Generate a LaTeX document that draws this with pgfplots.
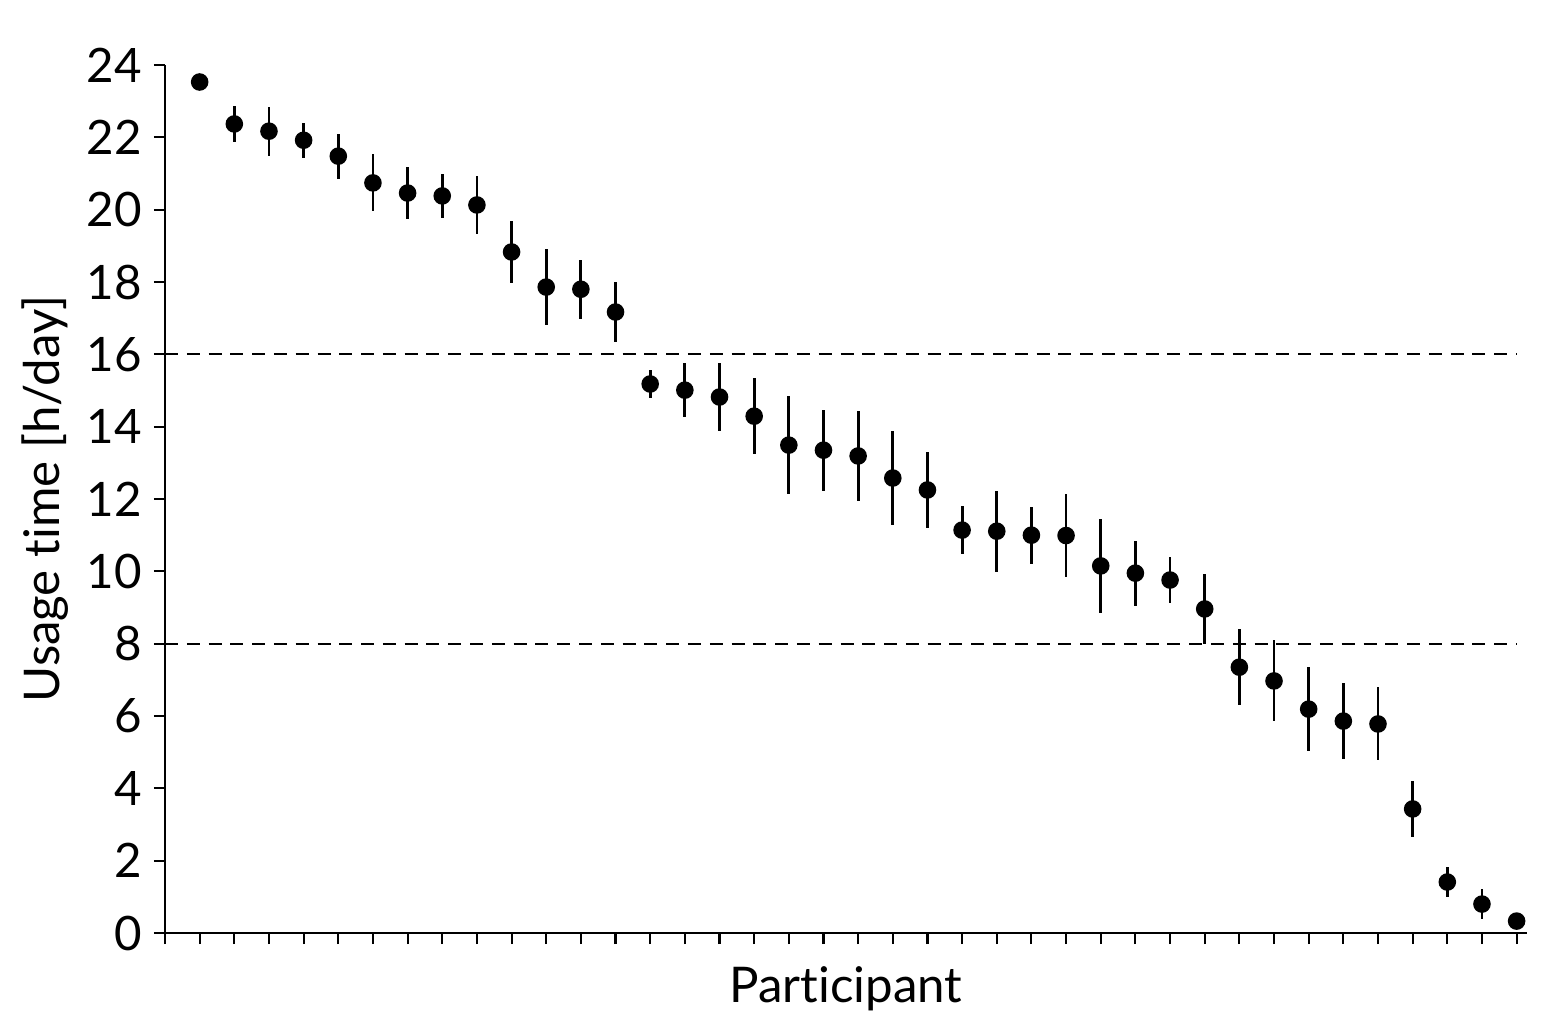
\documentclass[border=0pt]{standalone}
\usepackage{fontspec}
\setmainfont{Lato}[Ligatures={NoCommon}]
\usepackage{pgfplots}
\pgfplotsset{compat=1.18}
\begin{document}
\begin{tikzpicture}
\begin{axis}[
 scale only axis, width=13.62cm, height=8.68cm,
 xmin=0, xmax=39.3, ymin=0, ymax=24,
 axis x line*=bottom, axis y line*=left,
 axis line style={line width=0.6pt, -},
 xtick={0,...,39}, xticklabels={},
 ytick={0,2,...,24},
 tick align=outside, major tick length=0.11cm,
 tick style={line width=0.6pt, black},
 ticklabel style={font=\fontsize{13.5}{15}\selectfont},
 /pgf/number format/assume math mode=true,
 xlabel={Participant}, ylabel={Usage time [h/day]},
 xlabel style={at={(axis description cs:0.5,-0.0806)}, anchor=base, font=\fontsize{14}{16}\selectfont},
 ylabel style={at={(axis description cs:-0.088,0.5)}, anchor=center, font=\fontsize{14}{16}\selectfont},
 clip=false,
]
\addplot[black, dash pattern=on 3.7pt off 2.5pt, line width=0.6pt] coordinates {(0,16) (39,16)};
\addplot[black, dash pattern=on 3.7pt off 2.5pt, line width=0.6pt] coordinates {(0,8) (39,8)};
\addplot[only marks, mark=*, mark size=2.3pt, black,
  error bars/.cd, y dir=both, y explicit, error mark=none,
  error bar style={line width=0.8pt}]
coordinates {
(1,23.53) +- (0,0.05)
(2,22.37) +- (0,0.50)
(3,22.17) +- (0,0.68)
(4,21.92) +- (0,0.48)
(5,21.48) +- (0,0.62)
(6,20.74) +- (0,0.79)
(7,20.46) +- (0,0.72)
(8,20.38) +- (0,0.60)
(9,20.13) +- (0,0.80)
(10,18.83) +- (0,0.85)
(11,17.86) +- (0,1.05)
(12,17.80) +- (0,0.82)
(13,17.17) +- (0,0.83)
(14,15.18) +- (0,0.38)
(15,15.01) +- (0,0.75)
(16,14.82) +- (0,0.95)
(17,14.29) +- (0,1.05)
(18,13.49) +- (0,1.35)
(19,13.35) +- (0,1.12)
(20,13.19) +- (0,1.25)
(21,12.58) +- (0,1.30)
(22,12.25) +- (0,1.05)
(23,11.14) +- (0,0.66)
(24,11.11) +- (0,1.12)
(25,11.00) +- (0,0.79)
(26,10.99) +- (0,1.15)
(27,10.15) +- (0,1.30)
(28,9.95) +- (0,0.90)
(29,9.76) +- (0,0.64)
(30,8.96) +- (0,0.96)
(31,7.35) +- (0,1.05)
(32,6.97) +- (0,1.12)
(33,6.19) +- (0,1.16)
(34,5.86) +- (0,1.05)
(35,5.78) +- (0,1.01)
(36,3.43) +- (0,0.78)
(37,1.41) +- (0,0.41)
(38,0.80) +- (0,0.41)
(39,0.33) +- (0,0.12)
};
\end{axis}
\path (current axis.south west) ++(-1.65cm,-0.94cm);
\path (current axis.north east) ++(0.33cm,0.65cm);
\end{tikzpicture}
\end{document}
